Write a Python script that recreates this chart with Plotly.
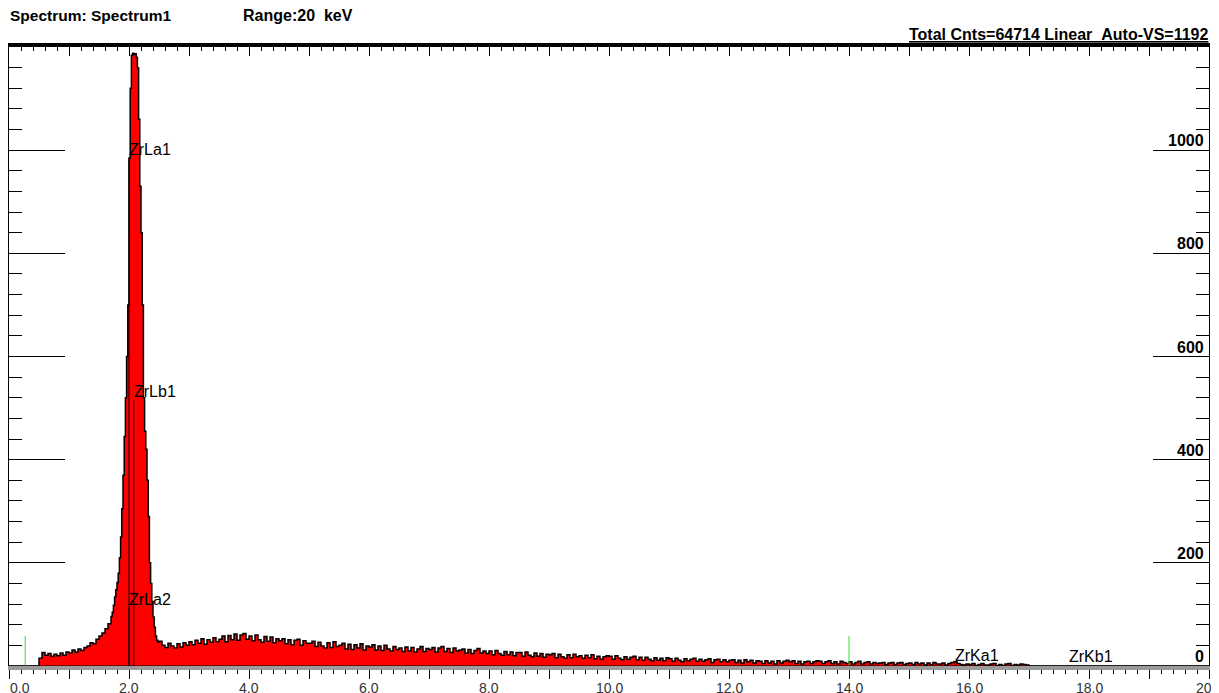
import numpy as np
import plotly.graph_objects as go

# ---------------- data ----------------
# low-energy part: 0.00 .. 1.65 keV, 0.05 keV channels
energy_low = np.round(np.arange(0.0, 1.70 - 1e-9, 0.05), 3)
counts_low = [0, 0, 0, 0, 0, 0, 0, 0, 0, 0,
              15, 26, 21, 24, 19, 23, 20, 25, 21, 27,
              25, 31, 27, 33, 30, 36, 39, 45, 43, 52,
              58, 64, 72, 82]

# main Zr L peak: 1.70 .. 2.48 keV, 0.02 keV channels
energy_peak = np.round(np.arange(1.70, 2.50 - 1e-9, 0.02), 3)
counts_peak = [96, 104, 118, 134, 148, 162, 180, 210, 250, 305,
               370, 445, 520, 600, 700, 985, 1120, 1184, 1188, 1186,
               1187, 1180, 1160, 1060, 930, 840, 700, 520, 455, 420,
               360, 290, 200, 160, 125, 95, 75, 58, 50, 46]

# background: 2.50 .. 17.00 keV, 0.05 keV channels
energy_high = np.round(np.arange(2.50, 17.05 - 1e-9, 0.05), 3)
counts_high = [48, 40, 36, 44, 39, 35, 43, 37, 45, 40,
               47, 41, 50, 44, 53, 42, 51, 46, 55, 47,
               52, 58, 47, 59, 51, 62, 50, 60, 63, 52,
               58, 49, 60, 51, 46, 57, 48, 56, 45, 53,
               49, 53, 43, 51, 41, 50, 52, 40, 49, 44,
               44, 48, 38, 46, 39, 35, 45, 36, 47, 38,
               40, 44, 33, 42, 32, 41, 35, 43, 31, 39,
               37, 41, 31, 39, 30, 40, 33, 29, 38, 32,
               35, 28, 37, 29, 36, 27, 33, 38, 28, 34,
               32, 36, 27, 35, 38, 28, 34, 26, 35, 29,
               31, 33, 25, 32, 24, 30, 34, 25, 29, 24,
               29, 22, 30, 24, 21, 28, 22, 27, 20, 26,
               26, 19, 27, 21, 18, 25, 19, 24, 17, 23,
               22, 24, 16, 23, 18, 15, 22, 16, 23, 18,
               20, 15, 21, 16, 22, 14, 19, 13, 18, 20,
               19, 13, 20, 15, 12, 18, 13, 17, 19, 12,
               17, 11, 17, 13, 10, 16, 11, 15, 10, 16,
               14, 9, 15, 11, 8, 14, 10, 13, 15, 9,
               13, 9, 12, 14, 7, 12, 13, 8, 12, 8,
               11, 12, 7, 11, 6, 12, 8, 11, 6, 10,
               9, 5, 10, 6, 9, 4, 10, 6, 9, 11,
               8, 10, 5, 9, 4, 8, 9, 5, 8, 10,
               9, 5, 8, 10, 5, 8, 4, 9, 7, 5,
               8, 4, 7, 9, 4, 7, 8, 4, 7, 5,
               6, 7, 3, 6, 7, 3, 6, 7, 3, 5,
               6, 3, 7, 4, 6, 2, 6, 3, 7, 4,
               4, 6, 2, 5, 7, 8, 5, 3, 2, 4,
               3, 5, 1, 3, 5, 2, 2, 4, 5, 1,
               3, 1, 4, 5, 1, 3, 2, 4, 3, 2,
               0]

energy_tail = [20.0]
counts_tail = [0]

# element line markers
marker_names = ["ZrLa1", "ZrLb1", "ZrLa2", "ZrKa1", "ZrKb1"]
marker_energy = [2.00, 2.08, 2.00, 15.77, 17.66]
marker_height = [984, 516, 112, 3, 2]

# green ROI markers
roi_energy = [0.27, 14.0]
roi_height = [58, 58]

# axes
x_tick_vals = list(range(0, 21))
x_label_vals = [0.18, 2, 4, 6, 8, 10, 12, 14, 16, 18, 20]
x_label_text = ["0.0", "2.0", "4.0", "6.0", "8.0", "10.0",
                "12.0", "14.0", "16.0", "18.0", "20.0"]
y_tick_vals = [0, 200, 400, 600, 800, 1000]
y_tick_text = ["0", "200", "400", "600", "800", "1000"]

header_left = "Spectrum: Spectrum1"
header_range = "Range:20&nbsp;&nbsp;keV"
header_right = "Total Cnts=64714 Linear&nbsp;&nbsp;Auto-VS=1192"

# ---------------- figure ----------------
energy = np.concatenate([energy_low, energy_peak, energy_high, energy_tail])
counts = np.concatenate([counts_low, counts_peak, counts_high, counts_tail])

FONT = "Liberation Sans, Arial, sans-serif"

# page body has an 8px default margin, so the figure is sized/offset for it
W, H = 1211, 685
ML, MR, MT, MB = 1, 10, 39, 27
PW = W - ML - MR          # plot width in px
PH = H - MT - MB          # plot height in px


def px_x(X):
    """window x pixel -> paper coordinate"""
    return (X - 8 - ML) / PW


def px_y(Y):
    """window y pixel -> paper coordinate"""
    return (H - MB + 8 - Y) / PH


fig = go.Figure()
fig.add_trace(go.Scatter(
    x=energy, y=counts, mode="lines", line_shape="hv",
    line=dict(color="black", width=1.5),
    fill="tozeroy", fillcolor="#FF0000",
    hoverinfo="skip", showlegend=False))

for e, h in zip(marker_energy, marker_height):
    fig.add_trace(go.Scatter(x=[e, e], y=[0, h], mode="lines",
                             line=dict(color="black", width=1),
                             hoverinfo="skip", showlegend=False))

for e, h in zip(roi_energy, roi_height):
    fig.add_trace(go.Scatter(x=[e, e], y=[0, h], mode="lines",
                             line=dict(color="#33E033", width=1),
                             hoverinfo="skip", showlegend=False))

# invisible trace for the top axis
fig.add_trace(go.Scatter(x=[0, 20], y=[0, 0], xaxis="x2", mode="lines",
                         line=dict(width=0), hoverinfo="skip", showlegend=False))

for name, e, h in zip(marker_names, marker_energy, marker_height):
    fig.add_annotation(x=e, y=h, xref="x", yref="y", text=name,
                       showarrow=False, xanchor="left", yanchor="bottom",
                       xshift=-2, yshift=-2,
                       font=dict(family=FONT, size=16, color="black"))

# y-axis value labels (inside, above the long ticks)
for v, t in zip(y_tick_vals, y_tick_text):
    fig.add_annotation(x=px_x(1206), y=v, xref="paper", yref="y",
                       text="<b>" + t + "</b>", showarrow=False,
                       xanchor="right", yanchor="bottom", yshift=-1,
                       font=dict(family=FONT, size=16, color="black"))

# x-axis value labels below the axis
for v, t in zip(x_label_vals, x_label_text):
    fig.add_annotation(x=v, y=px_y(678), xref="x", yref="paper",
                       text=t, showarrow=False,
                       xanchor="center", yanchor="top",
                       font=dict(family=FONT, size=14, color="#333333"))

fig.add_annotation(x=px_x(8), y=px_y(15.5), xref="paper", yref="paper",
                   text="<b>" + header_left + "</b>", showarrow=False,
                   xanchor="left", yanchor="middle",
                   font=dict(family=FONT, size=15.5, color="black"))
fig.add_annotation(x=px_x(241), y=px_y(15.5), xref="paper", yref="paper",
                   text="<b>" + header_range + "</b>", showarrow=False,
                   xanchor="left", yanchor="middle",
                   font=dict(family=FONT, size=16, color="black"))
fig.add_annotation(x=px_x(1210), y=px_y(35), xref="paper", yref="paper",
                   text="<b><u>" + header_right + "</u></b>", showarrow=False,
                   xanchor="right", yanchor="middle",
                   font=dict(family=FONT, size=16, color="black"))

fig.update_layout(
    width=W, height=H,
    margin=dict(l=ML, r=MR, t=MT, b=MB, pad=0, autoexpand=False),
    paper_bgcolor="white", plot_bgcolor="white",
    showlegend=False,
    xaxis=dict(range=[0, 20], tickmode="array", tickvals=x_tick_vals,
               ticks="outside", ticklen=9, showticklabels=False,
               tickwidth=1, tickcolor="black", automargin=False,
               minor=dict(dtick=0.2, tick0=0, ticks="outside", ticklen=4,
                          tickwidth=1, tickcolor="black", showgrid=False),
               showline=True, linecolor="#9a9a9a", linewidth=4,
               showgrid=False, zeroline=False),
    xaxis2=dict(range=[0, 20], overlaying="x", side="top", anchor="y",
                tickmode="linear", tick0=0, dtick=1, ticks="inside",
                ticklen=9, tickwidth=1, tickcolor="black", automargin=False,
                minor=dict(dtick=0.2, tick0=0, ticks="inside", ticklen=4,
                           tickwidth=1, tickcolor="black", showgrid=False),
                showline=True, linecolor="black", linewidth=4,
                showticklabels=False, showgrid=False, zeroline=False),
    yaxis=dict(range=[0, 1200], side="right", tickmode="array",
               tickvals=y_tick_vals, automargin=False,
               ticks="inside", ticklen=56, tickwidth=1, tickcolor="black",
               minor=dict(dtick=40, tick0=0, ticks="inside", ticklen=13,
                          tickwidth=1, tickcolor="black", showgrid=False),
               showline=True, linecolor="black", linewidth=1, mirror="ticks",
               showticklabels=False,
               showgrid=False, zeroline=False),
)

fig.add_shape(type="line", x0=0, x1=20, y0=0, y1=0, xref="x", yref="y",
              line=dict(color="black", width=1), layer="above")

fig.write_html("out.html")
